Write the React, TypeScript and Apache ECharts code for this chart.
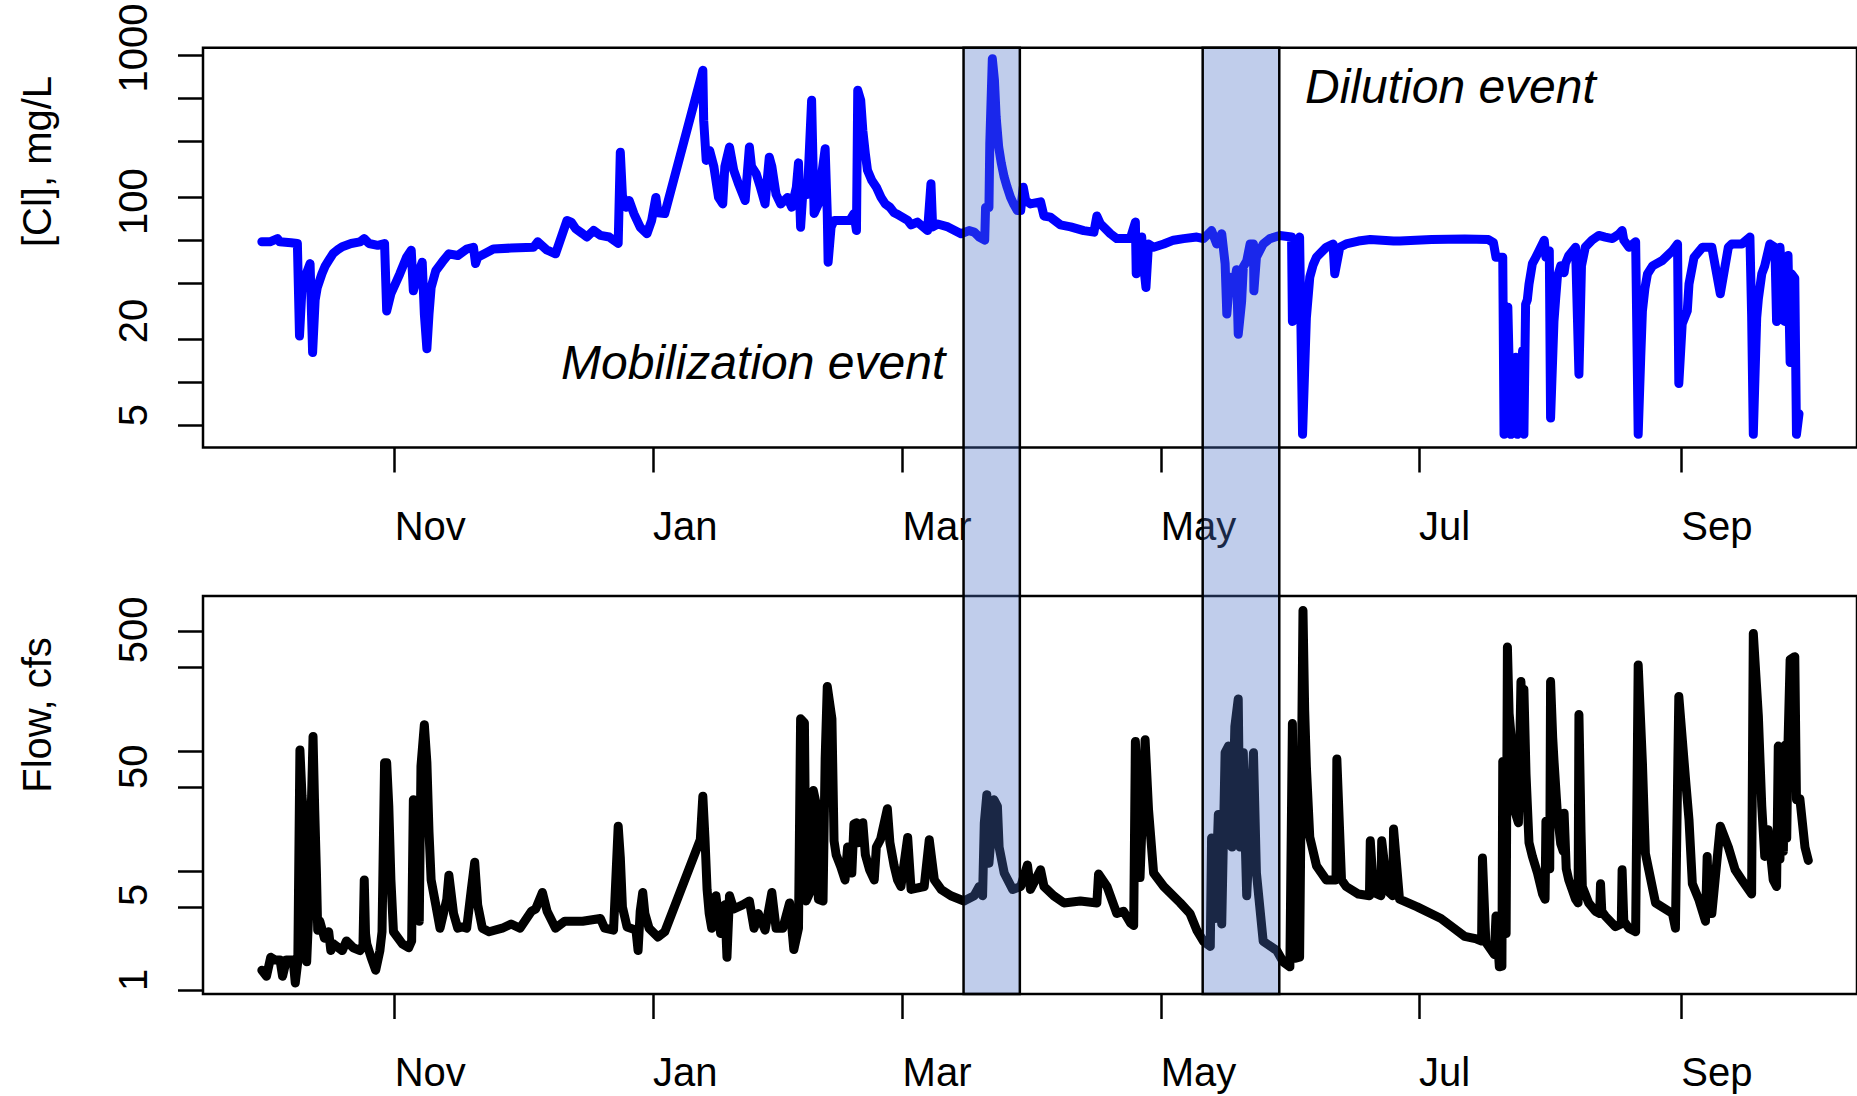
import React, { useEffect, useRef } from "react";
import * as echarts from "echarts";

type Pt = [number, number];

// Horizontal positions are days counted from 1 November (negative = the preceding autumn).
const monthTickDays = [0, 61, 120, 181, 242, 304];
const monthTickLabels = ["Nov", "Jan", "Mar", "May", "Jul", "Sep"];
const dayRange: Pt = [-45.3, 345.5];

// Chloride axis: tick marks, label anchors and the printed label text
const chlorideTicks = [1000, 500, 250, 100, 50, 25, 10, 5, 2.5];
const chlorideLabelAt = [1126, 93.3, 13.5, 2.94];
const chlorideLabelText = ["1000", "100", "20", "5"];
const chlorideRange: Pt = [1.738, 1131];

// Flow axis: tick marks, label anchors and the printed label text
const flowTicks = [500, 250, 50, 25, 5, 2.5, 0.5];
const flowLabelAt = [512.6, 36.9, 3.145, 0.614];
const flowLabelText = ["500", "50", "5", "1"];
const flowRange: Pt = [0.4687, 985];

// Highlighted events: [start day, end day]
const eventWindows: Pt[] = [
  [134.4, 147.7], // mobilization
  [190.9, 209.0], // dilution
];

// Chloride concentration, mg/L  ([day, value])
const chlorideFall: Pt[] = [
  [-31.4, 48.7], [-29.5, 48.7], [-27.7, 51.3], [-27.2, 48.7], [-24.5, 48], [-23.0, 47.4],
  [-22.5, 10.6], [-21.9, 23.2], [-20.9, 29], [-20.0, 34.2], [-19.4, 8.1], [-18.8, 19],
  [-18.3, 23.2], [-17.2, 29], [-16.4, 33], [-15.6, 36], [-14.5, 40.5], [-13.4, 43], [-12.4, 45],
  [-10.3, 47.4], [-8.2, 48.7], [-7.2, 51.3], [-6.1, 47.4], [-4.0, 46], [-2.4, 47.4],
  [-1.9, 15.9], [-0.9, 21], [1.2, 29], [2.8, 37.9], [3.9, 42.5], [4.4, 22], [5.5, 29],
  [6.5, 35], [7.0, 15.1], [7.6, 8.6], [8.1, 15.1], [8.6, 23.2], [9.7, 30.5], [11.2, 35],
  [12.8, 40.1], [14.9, 39], [17.0, 43.3], [18.6, 44.6], [19.1, 34.2], [19.6, 37.9],
  [21.2, 40.1], [23.3, 43.3], [27.5, 44], [32.8, 44.6], [33.8, 48.7], [35.9, 42.8],
  [38.0, 40.1], [40.7, 68.8], [41.7, 67], [42.8, 60], [44.4, 55.5], [45.4, 52.6],
  [47.0, 58.5], [48.6, 54], [50.7, 52.6], [52.8, 47.4], [53.3, 208], [53.8, 103],
  [54.7, 85.3], [55.4, 95], [56.5, 77], [58.0, 61.7], [59.6, 55.5], [60.7, 68.8],
  [61.7, 100], [62.2, 78], [63.8, 77],
];
const chlorideWinter: Pt[] = [
  [72.8, 784], [73.0, 348], [73.6, 182], [74.4, 214], [75.4, 165], [76.5, 100], [77.5, 90],
  [78.0, 165], [79.1, 226], [80.1, 155], [81.2, 125], [82.8, 95], [83.8, 226], [84.3, 165],
  [85.4, 147], [86.4, 118], [87.5, 90], [88.5, 192], [89.1, 165], [90.1, 105], [91.2, 90],
  [92.8, 100], [93.8, 85.3], [94.9, 118], [95.4, 175], [95.9, 61.7], [96.4, 105],
  [97.5, 105], [98.5, 482], [99.1, 77], [100.1, 90], [100.7, 132], [101.7, 220],
  [102.2, 77], [102.4, 35], [103.1, 61.7], [103.8, 68.8], [105.4, 68.8], [107.5, 68.8],
  [108.5, 77], [109.1, 58.5], [109.4, 567], [110.1, 482], [110.6, 296], [111.2, 203],
  [111.7, 155], [112.7, 132], [113.8, 118], [114.9, 100], [115.9, 90], [117.0, 85.3],
  [118.0, 78],
];
const chlorideSpring: Pt[] = [
  [118.8, 76], [121.2, 69], [122.0, 64], [123.5, 67], [125.9, 58.4], [126.7, 125],
  [127.1, 62], [128.3, 65], [130.7, 62], [133.8, 55.5], [135.7, 58.4], [136.9, 57],
  [138.1, 52.6], [139.4, 50], [139.6, 85], [140.4, 85], [140.6, 239], [141.2, 947],
  [141.7, 667], [142.1, 368], [142.7, 226], [143.3, 175], [144.0, 139], [144.7, 118],
  [145.5, 100], [146.3, 89], [147.1, 81], [147.9, 81], [148.5, 118], [149.1, 95],
  [150.2, 90], [152.6, 93], [153.4, 74],
  [154.9, 72.6], [157.3, 64], [159.7, 62], [162.8, 58.4], [165.2, 57], [165.9, 74],
  [166.7, 65.4], [169.1, 55.5], [170.6, 51.3], [173.8, 51.3], [175.0, 67], [175.2, 29],
  [176.5, 52.6], [176.9, 34.2], [177.5, 23.2], [178.1, 47], [179.3, 44.6], [181.7, 47],
  [184.0, 50], [186.4, 51.3], [189.5, 52.6], [191.1, 51.3], [193.0, 58.4], [194.2, 47],
  [195.4, 55.5], [196.2, 34.2], [196.6, 15.1], [197.3, 27.4], [198.1, 22], [198.9, 31],
  [199.3, 10.9], [200.1, 18.5], [200.5, 32.5], [201.3, 35.6], [202.1, 47], [202.9, 47],
  [203.0, 22], [203.6, 38], [205.2, 47], [206.8, 51.3], [209.1, 53.9], [211.9, 52.6],
  [212.1, 13.4], [212.7, 44.6], [213.8, 52.6], [214.5, 2.15], [215.4, 14.2], [216.2, 27.4],
  [217.0, 33.5], [217.8, 38], [220.1, 44.6], [221.7, 47], [222.1, 29], [223.3, 44.6], [224.8, 47],
  [227.7, 49.3], [230.5, 50.5], [236.0, 49.3], [237.5, 49.3], [245.0, 50.5], [252.8, 51],
  [258.4, 50.5], [259.6, 48],
];
const chlorideSummer: Pt[] = [
  [260.2, 37.9], [261.8, 37.9], [262.1, 2.15], [263.0, 16.9], [263.7, 2.15], [264.9, 7.5],
  [265.2, 2.15], [266.5, 8.4], [266.8, 2.15], [267.2, 17.7], [267.6, 19], [268.0, 24.5],
  [268.8, 34.2], [269.6, 37.9], [270.4, 42.2], [271.6, 50], [272.0, 37.9], [272.8, 42.2],
  [273.1, 2.8], [273.9, 13.4], [274.3, 19.4], [274.7, 27.5], [275.5, 33], [276.3, 29.5],
  [276.6, 34.2], [277.4, 39], [279.0, 44.6], [279.8, 5.7], [280.4, 33], [281.3, 44.6],
  [282.9, 50], [284.5, 54], [286.0, 52.6], [287.7, 51.3], [289.2, 55], [290.0, 58.4],
  [290.4, 50], [291.6, 44.6], [293.2, 48.7], [293.8, 2.15], [294.4, 7.5], [294.8, 15.9],
  [295.4, 23], [296.0, 29], [297.2, 33], [299.5, 36], [301.9, 42.2], [303.1, 47], [303.4, 4.9],
  [304.2, 12.9], [305.4, 15.9], [305.8, 24.5], [307.0, 37.9], [309.0, 44.6], [311.2, 44.6],
  [313.2, 21], [315.1, 44.6], [315.9, 47], [318.3, 47], [320.2, 52.6], [320.6, 15],
  [321.0, 2.15], [321.8, 14.2], [322.2, 19.4], [323.0, 29], [323.7, 33], [324.9, 47],
  [326.1, 44.6], [326.5, 13.4], [326.9, 34], [327.3, 44.6], [327.7, 29], [328.4, 13.4],
  [328.8, 34], [329.2, 39], [329.7, 6.9], [330.0, 29], [330.8, 27], [331.2, 2.15],
  [331.8, 3.0],
];

// Stream flow, cfs  ([day, value])
const flowFall: Pt[] = [
  [-31.4, 0.74], [-30.3, 0.66], [-29.3, 0.95], [-28.2, 0.9], [-27.1, 0.9], [-26.5, 0.66],
  [-25.6, 0.9], [-24.0, 0.9], [-23.5, 0.58], [-22.9, 0.87], [-22.4, 51], [-21.9, 21],
  [-21.4, 12.5], [-20.8, 0.87], [-20.3, 2.3], [-19.3, 66], [-18.9, 16], [-18.5, 4.9],
  [-18.2, 1.6], [-17.7, 1.9], [-16.6, 1.37], [-15.6, 1.55], [-15.1, 1.08], [-14.5, 1.23],
  [-12.4, 1.08], [-11.4, 1.3], [-9.8, 1.14], [-8.2, 1.08], [-7.5, 1.2], [-7.2, 4.2],
  [-6.9, 1.5], [-6.6, 1.23], [-5.6, 0.95], [-4.5, 0.74], [-3.5, 1.08], [-3.0, 1.55],
  [-2.4, 40], [-1.9, 40], [-1.4, 17.3], [-0.9, 4.2], [-0.3, 1.55], [1.8, 1.23],
  [3.3, 1.14], [4.0, 1.3], [4.4, 19.6], [4.9, 8.3], [5.3, 11], [5.8, 1.9], [6.2, 37.5],
  [7.0, 83], [7.6, 40], [8.1, 10.5], [8.6, 4.2], [9.7, 2.6], [10.7, 1.66], [12.3, 2.9],
  [12.8, 4.6], [13.9, 2.2], [14.9, 1.66], [16.0, 1.7], [17.0, 1.66], [18.1, 3.5],
  [18.9, 5.9], [19.6, 2.6], [20.7, 1.66], [22.3, 1.55], [25.4, 1.66], [27.5, 1.8],
  [29.6, 1.66], [32.3, 2.3], [33.3, 2.4], [34.9, 3.3], [36.0, 2.3], [38.0, 1.66],
  [40.2, 1.9], [44.4, 1.9], [48.6, 2.0], [49.6, 1.66], [51.7, 1.6], [52.8, 11.8],
  [53.3, 6.5], [53.8, 2.5], [54.9, 1.7], [57.0, 1.6], [57.5, 1.08], [58.0, 2.3],
  [58.6, 3.3], [59.1, 2.2], [60.1, 1.66], [62.2, 1.4], [63.8, 1.55],
];
const flowWinter: Pt[] = [
  [72.2, 9.1], [72.8, 21], [73.3, 9.4], [73.8, 3.5], [74.3, 2.2], [74.9, 1.66], [75.9, 3.1],
  [77.0, 1.5], [78.0, 2.6], [78.5, 0.95], [79.1, 3.1], [80.1, 2.4], [82.2, 2.6], [83.8, 2.8],
  [84.9, 1.66], [85.9, 2.2], [87.5, 1.6], [89.1, 3.3], [90.1, 1.66], [91.7, 1.66],
  [93.3, 2.7], [94.3, 1.1], [95.4, 1.66], [95.9, 93], [96.8, 86], [97.2, 2.8], [98.1, 3.3],
  [98.9, 23.4], [99.6, 18], [100.1, 2.9], [101.2, 2.8], [101.7, 43], [102.2, 173],
  [103.3, 93], [103.8, 8.9], [104.3, 6.8], [105.4, 5.4], [106.4, 4.2], [107.0, 7.9],
  [108.0, 4.8], [108.5, 12.3], [109.1, 12.6], [109.6, 8.6], [110.6, 12.6], [111.2, 6.8],
  [112.2, 5.1], [113.3, 4.2], [113.8, 7.9], [114.8, 9.2], [116.4, 16.5], [117.0, 8.6],
  [118.0, 5.5],
];
const flowSpring: Pt[] = [
  [118.8, 4.2], [119.6, 3.7], [121.2, 9.5], [122.0, 3.5], [125.1, 3.7], [126.3, 9.1],
  [127.5, 4.2], [129.1, 3.5], [131.4, 3.1], [134.5, 2.8], [136.9, 3.1], [138.1, 3.7],
  [138.9, 3.1], [139.3, 12.5], [139.9, 21.6], [140.4, 5.8], [141.6, 19.6], [142.4, 17.3],
  [142.8, 7.9], [144.0, 4.8], [146.0, 3.5], [147.9, 3.7], [149.5, 5.6], [150.2, 3.5],
  [152.6, 5.1], [153.4, 3.7], [155.7, 3.1], [158.1, 2.7], [162.0, 2.8], [165.9, 2.7],
  [166.3, 4.7], [168.3, 3.7], [170.6, 2.2], [172.2, 2.3], [173.8, 1.84], [174.6, 1.75],
  [175.0, 60], [176.1, 4.4], [177.3, 62], [178.1, 16.3], [179.3, 4.8], [181.7, 3.7],
  [185.6, 2.7], [187.9, 2.2], [189.5, 1.6], [191.1, 1.29], [192.7, 1.17], [193.0, 9.4],
  [193.8, 2.0], [194.6, 14.8], [195.4, 1.8], [196.2, 48.5], [197.0, 55], [197.8, 7.9],
  [198.5, 80], [199.3, 136], [199.7, 7.9], [200.5, 48.4], [200.9, 10.3], [201.3, 3.1],
  [202.9, 48.4], [203.6, 4.8], [205.2, 1.29], [208.4, 1.08], [209.9, 0.87], [211.5, 0.79],
  [212.1, 85], [212.7, 0.93], [213.8, 0.95], [214.6, 745], [215.0, 110], [215.4, 37.3],
  [216.2, 9.6], [217.8, 5.5], [220.1, 4.2], [222.4, 4.2], [222.6, 43], [223.7, 4.2],
  [224.8, 3.7], [227.7, 3.2], [230.3, 3.1], [230.5, 8.9], [231.3, 3.3], [233.0, 3.1],
  [233.2, 8.9], [234.6, 3.4], [235.8, 3.1], [236.0, 11.2], [237.4, 2.9], [241.6, 2.5],
  [247.2, 2.0], [252.8, 1.42], [255.6, 1.35], [256.8, 1.3], [257.0, 6.4], [257.8, 1.27],
  [259.8, 1.0],
];
const flowSummer: Pt[] = [
  [260.2, 2.1], [261.0, 0.79], [261.6, 0.8], [261.8, 41], [262.1, 2.1], [262.6, 1.5],
  [262.9, 370], [263.3, 103], [263.8, 65], [264.1, 32], [264.6, 16], [265.5, 12.6],
  [266.1, 190], [266.5, 65], [266.8, 163], [267.3, 32], [268.0, 8.6], [268.8, 6.6],
  [270.0, 4.8], [271.2, 3.2], [271.8, 2.9], [272.0, 13], [272.5, 6.3], [272.9, 5.2],
  [273.1, 190], [273.6, 65], [273.9, 42], [274.7, 15.1], [275.5, 8.4], [276.1, 7.3],
  [276.3, 15.1], [276.8, 5.2], [277.4, 4.2], [279.0, 2.9], [279.6, 2.7], [279.8, 101],
  [280.3, 10.5], [280.6, 3.7], [282.1, 2.7], [283.7, 2.3], [284.7, 2.2], [284.9, 3.9],
  [285.2, 2.3], [286.0, 2.1], [288.4, 1.71], [289.8, 1.8], [290.0, 5.1], [290.4, 1.9],
  [291.6, 1.66], [293.2, 1.55], [293.8, 262], [294.8, 40], [295.5, 7.0], [296.3, 5.1],
  [297.9, 2.7], [301.9, 2.2], [302.6, 1.66], [303.4, 143], [305.0, 28.7], [305.8, 13.4],
  [306.6, 3.9], [308.1, 2.9], [309.7, 1.9], [310.1, 6.6], [310.5, 2.2], [311.2, 2.2],
  [313.2, 11.8], [315.1, 7.9], [316.7, 5.1], [318.3, 4.2], [320.6, 3.2], [321.0, 480],
  [322.2, 97], [323.0, 17.3], [323.7, 6.6], [324.5, 11], [325.7, 4.2], [326.5, 3.7],
  [326.9, 55], [327.3, 6.3], [327.7, 54], [328.1, 7.3], [328.5, 56], [328.9, 9.4], [329.2, 58],
  [329.7, 290], [330.8, 307], [331.2, 19.6], [332.0, 20], [333.2, 7.9], [334.0, 6.1],
];

const FONT = "'Liberation Sans', Arial, Helvetica, sans-serif";
const TICK_STYLE = { color: "#000", width: 2.5 };
const LABEL_BASE = { color: "#000", fontFamily: FONT, fontSize: 40 };
const PLOT_LEFT = 203;
const PLOT_WIDTH = 1659;

// Picks the label text whose anchor is closest to the value the axis hands back.
function labelFor(v: number, anchors: number[], texts: string[], useLog: boolean) {
  let best = -1;
  let bestDiff = Infinity;
  anchors.forEach((c, i) => {
    const d = useLog ? Math.abs(Math.log10(v) - Math.log10(c)) : Math.abs(v - c);
    if (d < bestDiff) {
      bestDiff = d;
      best = i;
    }
  });
  return best >= 0 && bestDiff < (useLog ? 0.02 : 0.5) ? texts[best] : "";
}

function dayAxis(gridIndex: number, visible: boolean) {
  return {
    type: "value",
    gridIndex,
    min: dayRange[0],
    max: dayRange[1],
    show: visible,
    axisLine: { show: false, onZero: false },
    splitLine: { show: false },
    axisTick: { show: visible, length: 25, customValues: monthTickDays, lineStyle: TICK_STYLE },
    axisLabel: {
      ...LABEL_BASE,
      show: visible,
      customValues: monthTickDays,
      align: "left",
      margin: 58,
      formatter: (v: number) => labelFor(v, monthTickDays, monthTickLabels, false),
    },
  };
}

function logAxis(gridIndex: number, range: Pt, ticks: number[], labelAt: number[], labelText: string[]) {
  return {
    type: "log",
    logBase: 10,
    gridIndex,
    min: range[0],
    max: range[1],
    axisLine: { show: false, onZero: false },
    splitLine: { show: false },
    minorTick: { show: false },
    axisTick: { show: true, length: 25, customValues: ticks, lineStyle: TICK_STYLE },
    axisLabel: {
      ...LABEL_BASE,
      customValues: labelAt,
      rotate: 90,
      margin: 50,
      formatter: (v: number) => labelFor(v, labelAt, labelText, true),
    },
  };
}

function lineSeries(data: Pt[], index: number, color: string) {
  return {
    type: "line",
    xAxisIndex: index,
    yAxisIndex: index,
    data,
    showSymbol: false,
    symbol: "none",
    silent: true,
    z: 2,
    lineStyle: { color, width: 9, cap: "round", join: "round" },
  };
}

function textEl(text: string, x: number, y: number, size: number, opts: Record<string, unknown> = {}) {
  return {
    type: "text",
    x,
    y,
    silent: true,
    ...opts,
    style: {
      text,
      fill: "#000",
      fontFamily: FONT,
      fontSize: size,
      fontStyle: (opts.fontStyle as string) || "normal",
      align: (opts.align as string) || "left",
      textAlign: (opts.align as string) || "left",
      verticalAlign: "middle",
      textVerticalAlign: "middle",
    },
  };
}

export default function App() {
  const ref = useRef<HTMLDivElement>(null);

  useEffect(() => {
    if (!ref.current) return;
    const chart = echarts.init(ref.current, undefined, { renderer: "svg" });

    const chloride = [...chlorideFall, ...chlorideWinter, ...chlorideSpring, ...chlorideSummer];
    const flow = [...flowFall, ...flowWinter, ...flowSpring, ...flowSummer];

    const frame = { show: true, borderColor: "#000", borderWidth: 2.5, backgroundColor: "transparent" };

    chart.setOption({
      animation: false,
      backgroundColor: "#fff",
      grid: [
        { left: PLOT_LEFT, width: PLOT_WIDTH, top: 47.7, height: 399.8, ...frame },
        { left: PLOT_LEFT, width: PLOT_WIDTH, top: 596, height: 398, ...frame },
        { left: PLOT_LEFT, width: PLOT_WIDTH, top: 47.7, height: 946.3, show: false },
      ],
      xAxis: [dayAxis(0, true), dayAxis(1, true), dayAxis(2, false)],
      yAxis: [
        logAxis(0, chlorideRange, chlorideTicks, chlorideLabelAt, chlorideLabelText),
        logAxis(1, flowRange, flowTicks, flowLabelAt, flowLabelText),
        { type: "value", gridIndex: 2, min: 0, max: 1, show: false },
      ],
      series: [
        lineSeries(chloride, 0, "#0000ff"),
        lineSeries(flow, 1, "#000000"),
        {
          type: "custom",
          xAxisIndex: 2,
          yAxisIndex: 2,
          z: 10,
          silent: true,
          data: eventWindows,
          renderItem: (_params: unknown, api: any) => {
            const a = api.coord([api.value(0), 1]);
            const b = api.coord([api.value(1), 0]);
            return {
              type: "rect",
              shape: { x: a[0], y: a[1], width: b[0] - a[0], height: b[1] - a[1] },
              style: { fill: "rgba(75,113,197,0.35)", stroke: "#000", lineWidth: 2.5 },
            };
          },
        },
      ],
      graphic: [
        textEl("[Cl], mg/L", 37, 161.5, 40, { rotation: Math.PI / 2, align: "center" }),
        textEl("Flow, cfs", 37, 715, 40, { rotation: Math.PI / 2, align: "center" }),
        textEl("Mobilization event", 561, 362, 48, { fontStyle: "italic" }),
        textEl("Dilution event", 1305, 86, 48, { fontStyle: "italic" }),
      ],
    });

    return () => chart.dispose();
  }, []);

  return (
    <div
      ref={ref}
      style={{ position: "fixed", left: 0, top: 0, width: 1857, height: 1096, background: "#fff" }}
    />
  );
}
